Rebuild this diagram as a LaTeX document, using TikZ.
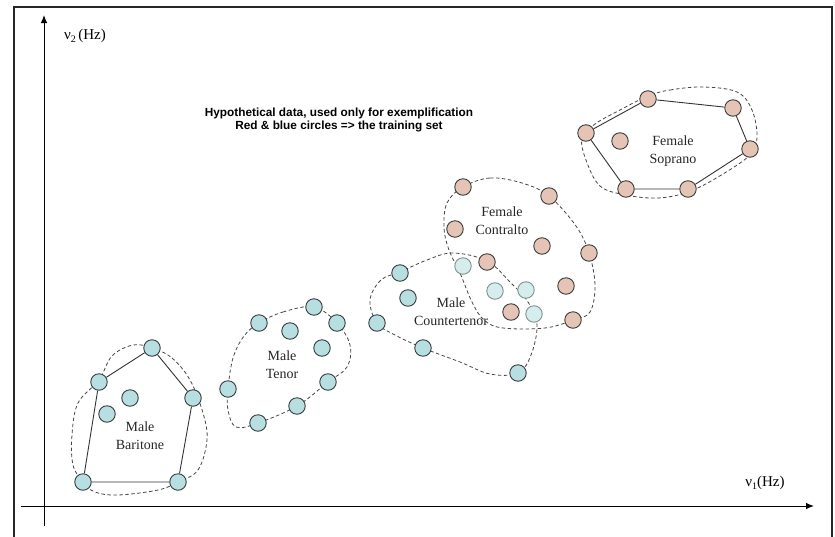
\documentclass[tikz,border=0pt]{standalone}
\usepackage{fontspec}
\setmainfont{Liberation Serif}
\newfontfamily\arialfont{Liberation Sans}
\usetikzlibrary{arrows.meta}
\definecolor{blueF}{RGB}{183,222,224}
\definecolor{pinkF}{RGB}{229,196,181}
\definecolor{fadeF}{RGB}{214,236,237}
\definecolor{fadeD}{RGB}{125,145,145}
\definecolor{ringD}{RGB}{55,60,60}
\definecolor{dashD}{RGB}{70,70,70}
\tikzset{
  pt/.style={circle,draw=ringD,line width=0.9pt,minimum size=16.5pt,inner sep=0pt},
  bpt/.style={pt,fill=blueF},
  ppt/.style={pt,fill=pinkF},
  fpt/.style={pt,fill=fadeF,draw=fadeD},
  hull/.style={draw=dashD,line width=0.8pt,dash pattern=on 3.5pt off 2.5pt},
  poly/.style={draw=black!80,line width=0.9pt},
  lbl/.style={align=center,font=\fontsize{14}{18}\selectfont,text=black!85},
  axis/.style={draw=black,line width=1pt,-{Latex[length=8pt,width=6.5pt]}}
}
\begin{document}
\begin{tikzpicture}[x=1pt,y=-1pt]
\useasboundingbox (0,0) rectangle (835,536);
% frame
\draw[line width=2pt,draw=black!85] (14,540) -- (14,7) -- (832,7) -- (832,540);
% axes
\coordinate (yb) at (44,526);
\coordinate (yt) at (44,15);
\coordinate (xl) at (21,506);
\coordinate (xr) at (814,506);
\draw[axis] (yb) -- (yt);
\draw[axis] (xl) -- (xr);
\node[font=\fontsize{15}{15}\selectfont] (ylab) at (85,36) {ν\raisebox{-3pt}{\fontsize{10}{10}\selectfont 2}\,(Hz)};
\node[font=\fontsize{15}{15}\selectfont] (xlab) at (765,483) {ν\raisebox{-3pt}{\fontsize{10}{10}\selectfont 1}(Hz)};
% title
\node[align=center,font=\arialfont\bfseries\fontsize{11.8}{13.4}\selectfont] (title) at (339,120)
  {Hypothetical data, used only for exemplification\\Red \& blue circles => the training set};

% dashed hulls
\draw[hull] plot[smooth cycle,tension=0.6] coordinates {
  (152,348) (172,358) (190,380) (203,413) (207,440) (198,470) (178,482) (158,490) (118,495) (95,492)
  (83,482) (73,465) (72,435) (78,403) (99,380) (112,356) (133,345)};
\draw[hull] plot[smooth cycle,tension=0.6] coordinates {
  (259,323) (283,312) (314,307) (337,323) (350,345) (347,367) (328,382) (297,406) (258,423)
  (236,427) (228,410) (228,389) (233,358) (244,336)};
\draw[hull] plot[smooth cycle,tension=0.6] coordinates {
  (400,272) (427,260) (453,253) (487,261) (510,282) (528,302) (537,325) (531,355) (518,373)
  (490,374) (460,362) (423,348) (395,335) (377,323) (370,300) (381,280)};
\draw[hull] plot[smooth cycle,tension=0.6] coordinates {
  (463,187) (490,178) (522,183) (549,196) (576,226) (589,253) (595,285) (590,312) (573,320)
  (545,328) (503,328) (484,320) (472,302) (460,273) (449,250) (444,228) (447,203)};
\draw[hull] plot[smooth cycle,tension=0.6] coordinates {
  (648,96) (670,90) (703,87) (737,92) (752,110) (757,137) (750,155) (718,177) (688,192)
  (658,198) (626,195) (600,186) (586,160) (582,138) (595,124) (620,110)};

% Male Baritone
\node[bpt] (b1) at (152,348) {};
\node[bpt] (b2) at (99,382) {};
\node[bpt] (b3) at (130,398) {};
\node[bpt] (b4) at (107,414) {};
\node[bpt] (b5) at (193,398) {};
\node[bpt] (b6) at (83,482) {};
\node[bpt] (b7) at (178,482) {};
\draw[poly] (b6) -- (b2) -- (b1) -- (b5) -- (b7) -- (b6);
\node[lbl] (lbar) at (140,436) {Male\\Baritone};

% Male Tenor
\node[bpt] (t1) at (314,307) {};
\node[bpt] (t2) at (259,323) {};
\node[bpt] (t3) at (290,331) {};
\node[bpt] (t4) at (337,323) {};
\node[bpt] (t5) at (322,348) {};
\node[bpt] (t6) at (328,382) {};
\node[bpt] (t7) at (228,389) {};
\node[bpt] (t8) at (297,406) {};
\node[bpt] (t9) at (258,423) {};
\node[lbl] (lten) at (282,365) {Male\\Tenor};

% Female Contralto
\node[ppt] (c1) at (463,187) {};
\node[ppt] (c2) at (549,196) {};
\node[ppt] (c3) at (455,229) {};
\node[ppt] (c4) at (542,246) {};
\node[ppt] (c5) at (589,253) {};
\node[ppt] (c6) at (487,262) {};
\node[ppt] (c7) at (566,286) {};
\node[ppt] (c8) at (511,312) {};
\node[ppt] (c9) at (573,320) {};
\node[lbl] (lcon) at (502,221) {Female\\Contralto};

% Male Countertenor
\node[bpt] (m1) at (400,273) {};
\node[bpt] (m2) at (408,298) {};
\node[bpt] (m3) at (377,323) {};
\node[bpt] (m4) at (423,348) {};
\node[bpt] (m5) at (518,373) {};
\node[fpt] (f1) at (463,266) {};
\node[fpt] (f2) at (495,291) {};
\node[fpt] (f3) at (526,290) {};
\node[fpt] (f4) at (534,314) {};
\node[lbl] (lctr) at (451,312) {Male\\Countertenor};

% Female Soprano
\node[ppt] (s1) at (648,99) {};
\node[ppt] (s2) at (733,108) {};
\node[ppt] (s3) at (586,133) {};
\node[ppt] (s4) at (620,141) {};
\node[ppt] (s5) at (750,149) {};
\node[ppt] (s6) at (626,189) {};
\node[ppt] (s7) at (688,189) {};
\draw[poly] (s3) -- (s1) -- (s2) -- (s5) -- (s7) -- (s6) -- (s3);
\node[lbl] (lsop) at (673,151) {Female\\Soprano};
\end{tikzpicture}
\end{document}
